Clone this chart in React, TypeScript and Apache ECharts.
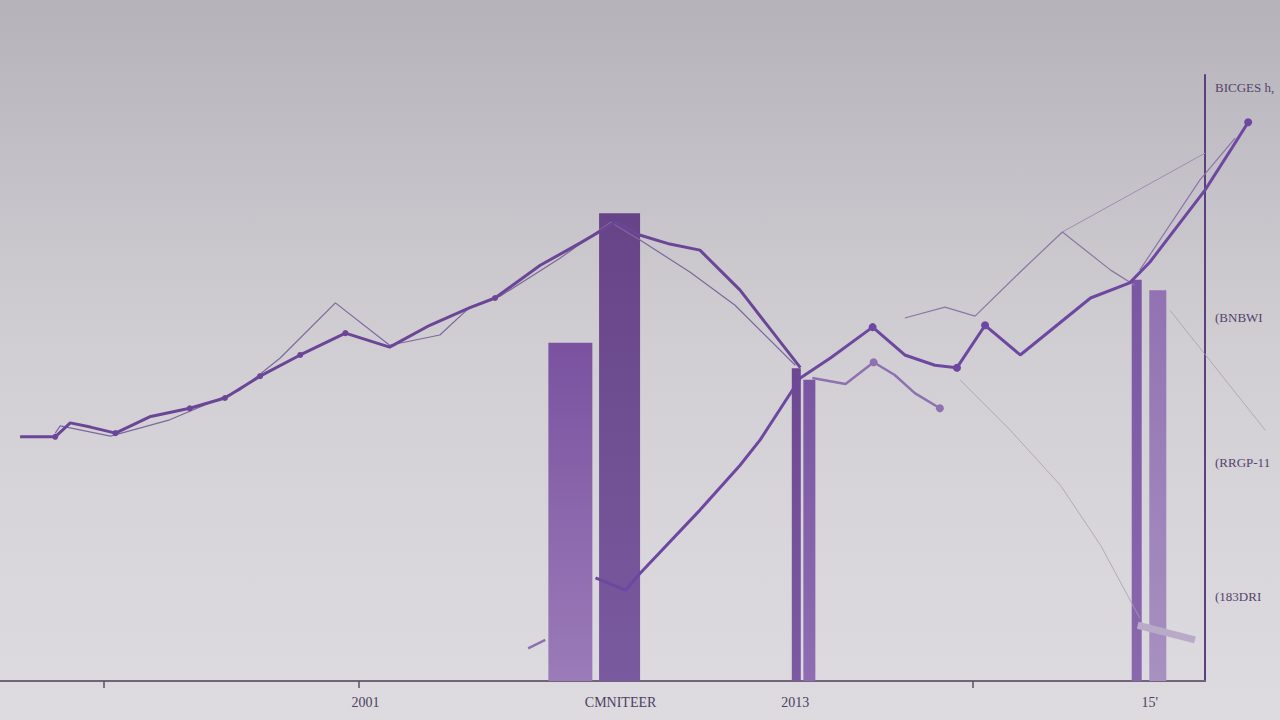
import React, { useEffect, useRef } from "react";
import * as echarts from "echarts";

// Horizontal positions are on a 0–120 scale, values on a 0–100 scale.
const xTickValues = [10.3, 35.7, 96.9];
const xLabelValues = [36.4, 61.8, 79.2, 114.5];
const xLabelTexts = ["2001", "CMNITEER", "2013", "15'"];

const yLabelValues = [14, 36, 60, 98];
const yLabelTexts = ["(183DRI", "(RRGP-11", "(BNBWI", "BICGES h,"];

// Bars: [position, value]
const barData = [
  [56.8, 55.8],
  [61.7, 77.2],
  [79.3, 51.6],
  [80.6, 49.7],
  [113.2, 66.2],
  [115.3, 64.5],
];

// Main thick line, left run up to the peak and down
const mainLeft = [
  [2.0, 40.3], [5.5, 40.3], [7.0, 42.6], [9.0, 41.9], [11.5, 40.9],
  [14.9, 43.6], [18.9, 45.0], [22.4, 46.7], [25.9, 50.3], [29.9, 53.8],
  [34.4, 57.4], [38.8, 55.1], [42.8, 58.7], [46.8, 61.6], [49.3, 63.2],
  [53.8, 68.6], [57.8, 72.3], [61.3, 75.7], [63.7, 73.6], [66.7, 72.1],
  [69.7, 71.1], [73.7, 64.5], [79.7, 51.7],
];

// Thin companion line
const thinLeft = [
  [5.5, 40.9], [6.0, 42.1], [11.0, 40.4], [16.9, 43.1], [23.9, 48.0],
  [27.9, 53.3], [33.4, 62.4], [38.8, 55.4], [43.8, 57.1], [46.8, 61.7],
  [49.8, 63.5], [55.8, 69.8], [60.8, 75.7], [63.7, 72.8], [68.7, 67.5],
  [73.2, 62.0], [79.2, 52.1],
];

// Rising thick line from the low point to the top right
const mainRight = [
  [59.3, 17.0], [62.3, 15.0], [63.7, 17.7], [69.7, 28.2], [73.7, 35.6],
  [75.7, 39.8], [79.7, 50.0], [82.7, 53.3], [86.9, 58.4], [90.1, 53.8],
  [93.1, 52.1], [95.3, 51.7], [98.1, 58.7], [101.6, 53.8], [108.6, 63.2],
  [112.5, 65.7], [114.5, 69.1], [120.0, 81.0], [122.7, 88.0], [124.3, 92.2],
];

const branchLine = [
  [80.9, 50.0], [84.2, 49.0], [87.0, 52.6], [89.1, 50.5], [91.1, 47.5], [93.6, 45.0],
];

const thinRight = [
  [90.1, 59.9], [94.1, 61.7], [97.1, 60.2], [101.6, 67.5], [105.8, 74.1],
  [110.6, 67.8], [113.0, 65.3],
];

const thinRise = [[105.8, 74.1], [120.0, 87.1]];
const thinRise2 = [[113.5, 67.8], [119.5, 82.7], [123.0, 89.6]];
const faintFall = [[95.6, 49.7], [100.6, 41.4], [105.6, 32.3], [109.6, 22.4], [113.5, 10.4]];
const faintOuter = [[116.5, 61.2], [126.0, 41.4]];
const stub = [[52.6, 5.4], [54.3, 6.8]];
const clamp = [[113.3, 9.2], [119.0, 6.8]];

const BAR_PX = [44, 41, 9, 12, 10, 17];
const BAR_FILLS = [
  ["#7a52a0", "#9b7bb8"],
  ["#674487", "#7a5a9f"],
  ["#6b488f", "#7c5aa2"],
  ["#7a56a2", "#8e6db2"],
  ["#7b57a3", "#8a68ad"],
  ["#9272b2", "#a791c0"],
];

// Axis frame ends at 1205px; the line layer spans the full 1280px width
// with the same scale so that lines can run past the right axis.
const W = 1280;
const FRAME_RIGHT = 75;
const X_MAX = 120;
const X_MAX_FULL = (X_MAX * W) / (W - FRAME_RIGHT);

export default function App() {
  const ref = useRef<HTMLDivElement>(null);

  useEffect(() => {
    if (!ref.current) return;
    const chart = echarts.init(ref.current, undefined, { renderer: "svg" });

    const line = (
      data: number[][],
      color: string,
      width: number,
      marks: number[] = [],
      markSize = 6
    ) => ({
      type: "line",
      xAxisIndex: 1,
      yAxisIndex: 1,
      data,
      clip: false,
      smooth: false,
      symbol: "circle",
      symbolSize: (_v: any, p: any) => (marks.includes(p.dataIndex) ? markSize : 0),
      showSymbol: true,
      lineStyle: { color, width },
      itemStyle: { color },
      z: 5,
    });

    const hiddenAxis = {
      show: false,
      splitLine: { show: false },
      axisLine: { show: false },
      axisTick: { show: false },
      axisLabel: { show: false },
    };

    chart.setOption({
      animation: false,
      backgroundColor: "transparent",
      grid: [
        { left: 0, right: FRAME_RIGHT, top: 75, bottom: 39, outerBoundsMode: "none" },
        { left: 0, right: 0, top: 75, bottom: 39, outerBoundsMode: "none" },
      ],
      xAxis: [
        {
          type: "value",
          gridIndex: 0,
          min: 0,
          max: X_MAX,
          splitLine: { show: false },
          axisLine: { show: true, onZero: false, lineStyle: { color: "#6f6479", width: 2 } },
          axisTick: {
            show: true,
            customValues: xTickValues,
            length: 7,
            lineStyle: { color: "#5a5062", width: 1.5 },
          },
          axisLabel: {
            customValues: xLabelValues,
            formatter: (v: number) => {
              const i = xLabelValues.findIndex((x) => Math.abs(x - v) < 1e-6);
              return i >= 0 ? xLabelTexts[i] : "";
            },
            color: "#4d4060",
            fontFamily: "Liberation Serif",
            fontSize: 14,
            margin: 14,
          },
        },
        { type: "value", gridIndex: 1, min: 0, max: X_MAX_FULL, ...hiddenAxis },
      ],
      yAxis: [
        {
          type: "value",
          gridIndex: 0,
          position: "right",
          min: 0,
          max: 100,
          splitLine: { show: false },
          axisLine: { show: true, onZero: false, lineStyle: { color: "#5b4080", width: 2 } },
          axisTick: { show: false },
          axisLabel: {
            customValues: yLabelValues,
            formatter: (v: number) => {
              const i = yLabelValues.findIndex((x) => Math.abs(x - v) < 1e-6);
              return i >= 0 ? yLabelTexts[i] : "";
            },
            color: "#54436a",
            fontFamily: "Liberation Serif",
            fontSize: 13,
            margin: 10,
          },
        },
        { type: "value", gridIndex: 1, min: 0, max: 100, ...hiddenAxis },
      ],
      series: [
        {
          type: "custom",
          xAxisIndex: 0,
          yAxisIndex: 0,
          data: barData,
          z: 2,
          renderItem: (params: any, api: any) => {
            const x = api.value(0);
            const v = api.value(1);
            const top = api.coord([x, v]);
            const base = api.coord([x, 0]);
            const w = BAR_PX[params.dataIndex];
            const [c0, c1] = BAR_FILLS[params.dataIndex];
            return {
              type: "rect",
              shape: { x: top[0] - w / 2, y: top[1], width: w, height: base[1] - top[1] },
              style: {
                fill: new echarts.graphic.LinearGradient(0, 0, 0, 1, [
                  { offset: 0, color: c0 },
                  { offset: 1, color: c1 },
                ]),
              },
            };
          },
        },
        line(faintFall, "#a89db5", 0.8),
        line(faintOuter, "#a89db5", 0.8),
        line(thinRise, "#9d8fb0", 1),
        line(thinRise2, "#8c74ab", 1.2),
        line(thinRight, "#8a77a3", 1.2),
        line(thinLeft, "#7e679d", 1.2),
        line(branchLine, "#8f71b2", 2.5, [2, 5], 8),
        line(clamp, "#b9abc7", 7),
        line(stub, "#8e70b0", 2.5),
        line(mainLeft, "#6c4696", 3, [1, 4, 6, 7, 8, 9, 10, 14], 6),
        line(mainRight, "#6e48a0", 3, [8, 11, 12, 19], 8),
      ],
    });

    return () => chart.dispose();
  }, []);

  return (
    <div
      style={{
        position: "fixed",
        left: 0,
        top: 0,
        width: 1280,
        height: 720,
        background:
          "linear-gradient(180deg, #b6b2b9 0%, #c5c1c8 25%, #d1cfd4 50%, #d8d6db 75%, #dddbe0 100%)",
      }}
    >
      <div ref={ref} style={{ width: 1280, height: 720 }} />
    </div>
  );
}
